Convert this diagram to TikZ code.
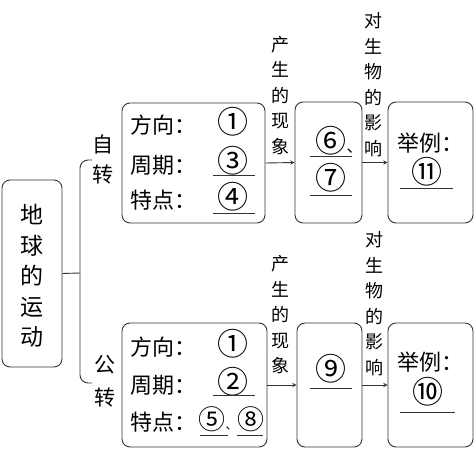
\documentclass[tikz,border=0pt]{standalone}
\usepackage{fontspec}
\setmainfont{Noto Sans CJK SC}
\usetikzlibrary{positioning}

\begin{document}
\begin{tikzpicture}[x=1pt,y=-1pt,
  box/.style={draw=black!80,line width=0.9pt,rounded corners=8pt,inner sep=0pt},
  txt/.style={inner sep=0pt,font=\fontsize{22}{22}\selectfont},
  num/.style={inner sep=0pt,font=\fontsize{31}{31}\selectfont},
  vtxt/.style={inner sep=0pt,align=center,font=\fontsize{18}{25.5}\selectfont},
  uline/.style={line width=0.9pt,black!80}]
\useasboundingbox (0,0) rectangle (476,454);

%draw the main box
\node[box,minimum width=60pt,minimum height=187pt] (earth) at (32,273.5) {};
\node[vtxt,font=\fontsize{23}{30.5}\selectfont] (earthtxt) at (32,276) {地\\球\\的\\运\\动};

%draw the bracket
\coordinate (bmid) at (80,273);
\coordinate (btop) at (92,160);
\coordinate (bbot) at (92,383);
\draw[uline] (earth.east) -- (bmid);
\draw[uline,rounded corners=8pt] (btop) -| (bmid) |- (bbot);
\node[vtxt,font=\fontsize{21}{30}\selectfont] (zizhuan) at (103,160) {自\\转};
\node[vtxt,font=\fontsize{21}{33}\selectfont] (gongzhuan) at (105,381) {公\\转};

%rotation row
\node[box,minimum width=143pt,minimum height=120pt] (rot) at (193.5,163) {};
\node[txt,anchor=west] (rotdir) at (130,125) {方向：};
\node[num] (rotn1) at (233,122) {①};
\node[txt,anchor=west] (rotper) at (130,165) {周期：};
\node[num] (rotn3) at (233,161) {③};
\node[txt,anchor=west] (rotfea) at (130,200) {特点：};
\node[num] (rotn4) at (233,197) {④};
\draw[uline] (213,175) -- (255,175);
\draw[uline] (213,213) -- (255,213);

\node[box,minimum width=67pt,minimum height=121pt] (rotphen) at (328.5,162.5) {};
\draw[-stealth,uline] (rot.east) -- (rotphen.west);
\node[vtxt] (rotlab1) at (280,95.5) {产\\生\\的\\现\\象};
\node[num,anchor=west] (rotn6) at (315.5,141) {⑥{\fontsize{16}{16}\selectfont 、}};
\draw[uline] (310,156) -- (352,156);
\node[num] (rotn7) at (331,178) {⑦};
\draw[uline] (310,195) -- (352,195);

\node[box,minimum width=85pt,minimum height=121pt] (rotex) at (430.5,162.5) {};
\draw[-stealth,uline] (rotphen.east) -- (rotex.west);
\node[vtxt] (rotlab2) at (373,84.5) {对\\生\\物\\的\\影\\响};
\node[txt] (rotexa) at (430,143) {举例：};
\node[num] (rotn11) at (427,172) {⑪};
\draw[uline] (400,188) -- (453,188);

%revolution row
\node[box,minimum width=145pt,minimum height=124pt] (rev) at (194.5,385) {};
\node[txt,anchor=west] (revdir) at (130,347) {方向：};
\node[num] (revn1) at (233,344) {①};
\node[txt,anchor=west] (revper) at (130,385) {周期：};
\node[num] (revn2) at (233,382) {②};
\draw[uline] (213,395) -- (255,395);
\node[txt,anchor=west] (revfea) at (130,422) {特点：};
\node[num,anchor=west,font=\fontsize{27}{27}\selectfont] (revn58) at (198.5,419)
  {⑤{\fontsize{12}{12}\selectfont 、}⑧};
\draw[uline] (200,435) -- (228,435);
\draw[uline] (237,435) -- (263,435);

\node[box,minimum width=65pt,minimum height=124pt] (revphen) at (329.5,385) {};
\draw[-stealth,uline] (rev.east) -- (revphen.west);
\node[vtxt] (revlab1) at (280,315) {产\\生\\的\\现\\象};
\node[num] (revn9) at (331,369) {⑨};
\draw[uline] (310,388) -- (352,388);

\node[box,minimum width=85pt,minimum height=124pt] (revex) at (430.5,385) {};
\draw[-stealth,uline] (revphen.east) -- (revex.west);
\node[vtxt] (revlab2) at (374,303.5) {对\\生\\物\\的\\影\\响};
\node[txt] (revexa) at (430,362) {举例：};
\node[num] (revn10) at (428,392) {⑩};
\draw[uline] (400,412) -- (455,412);

\end{tikzpicture}
\end{document}
